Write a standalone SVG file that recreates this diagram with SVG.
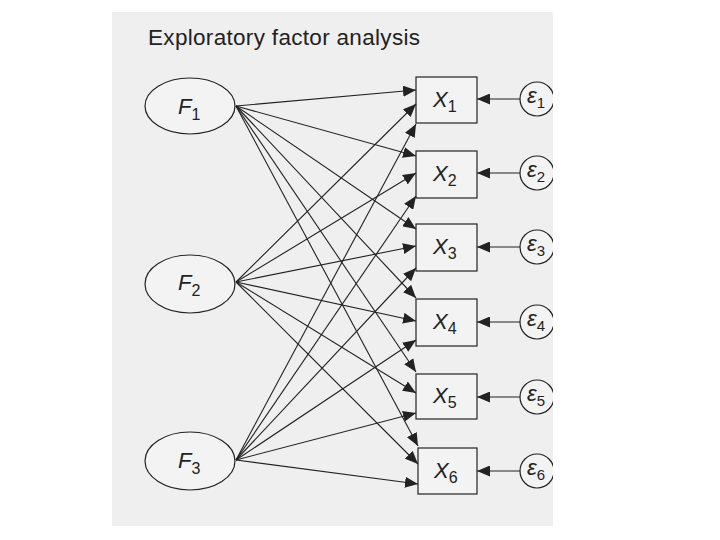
<svg xmlns="http://www.w3.org/2000/svg" width="720" height="540" viewBox="0 0 720 540">
<defs>
<marker id="ah" markerWidth="13" markerHeight="11" refX="13" refY="5.5" orient="auto" markerUnits="userSpaceOnUse">
<path d="M0,0 L13,5.5 L0,11 z" fill="#222"/>
</marker>
<clipPath id="panel"><rect x="112" y="12" width="441" height="514"/></clipPath>
<style>
.lbl{font-family:"Liberation Sans",Arial,sans-serif;fill:#222}
.it{font-style:italic}
.node{fill:#f3f3f3;stroke:#222;stroke-width:1.2}
.edge{stroke:#222;stroke-width:1.1;fill:none;marker-end:url(#ah)}
</style>
</defs>
<rect width="720" height="540" fill="#fff"/>
<rect x="112" y="12" width="441" height="514" fill="#efefef"/>
<text class="lbl" x="148" y="45" font-size="22.5" textLength="272">Exploratory factor analysis</text>
<g clip-path="url(#panel)">
<g id="F1"><ellipse class="node" cx="190" cy="106" rx="45" ry="28"/><text class="lbl" x="178" y="114" font-size="22"><tspan class="it">F</tspan><tspan font-size="16" dy="6">1</tspan></text></g>
<g id="F2"><ellipse class="node" cx="190" cy="284" rx="45" ry="29"/><text class="lbl" x="178" y="290" font-size="22"><tspan class="it">F</tspan><tspan font-size="16" dy="6">2</tspan></text></g>
<g id="F3"><ellipse class="node" cx="190" cy="461" rx="45" ry="29"/><text class="lbl" x="178" y="468" font-size="22"><tspan class="it">F</tspan><tspan font-size="16" dy="6">3</tspan></text></g>
<g id="X1"><rect class="node" x="416" y="77" width="61" height="46"/><text class="lbl" x="433" y="107" font-size="22"><tspan class="it">X</tspan><tspan font-size="16" dy="5">1</tspan></text></g>
<g id="X2"><rect class="node" x="416" y="151" width="61" height="47"/><text class="lbl" x="433" y="181" font-size="22"><tspan class="it">X</tspan><tspan font-size="16" dy="5">2</tspan></text></g>
<g id="X3"><rect class="node" x="416" y="224" width="61" height="47"/><text class="lbl" x="433" y="254" font-size="22"><tspan class="it">X</tspan><tspan font-size="16" dy="5">3</tspan></text></g>
<g id="X4"><rect class="node" x="416" y="299" width="61" height="47"/><text class="lbl" x="433" y="329" font-size="22"><tspan class="it">X</tspan><tspan font-size="16" dy="5">4</tspan></text></g>
<g id="X5"><rect class="node" x="416" y="374" width="61" height="45"/><text class="lbl" x="433" y="403" font-size="22"><tspan class="it">X</tspan><tspan font-size="16" dy="5">5</tspan></text></g>
<g id="X6"><rect class="node" x="418" y="448" width="59" height="46"/><text class="lbl" x="434" y="478" font-size="22"><tspan class="it">X</tspan><tspan font-size="16" dy="5">6</tspan></text></g>
<g id="e1"><circle class="node" cx="537" cy="99" r="17"/><text class="lbl it" x="527" y="103" font-size="22">ε<tspan font-size="15" dy="5" font-style="normal">1</tspan></text></g>
<g id="e2"><circle class="node" cx="537" cy="173" r="17"/><text class="lbl it" x="527" y="177" font-size="22">ε<tspan font-size="15" dy="5" font-style="normal">2</tspan></text></g>
<g id="e3"><circle class="node" cx="537" cy="247" r="17"/><text class="lbl it" x="527" y="251" font-size="22">ε<tspan font-size="15" dy="5" font-style="normal">3</tspan></text></g>
<g id="e4"><circle class="node" cx="537" cy="322" r="17"/><text class="lbl it" x="527" y="326" font-size="22">ε<tspan font-size="15" dy="5" font-style="normal">4</tspan></text></g>
<g id="e5"><circle class="node" cx="537" cy="397" r="17"/><text class="lbl it" x="527" y="401" font-size="22">ε<tspan font-size="15" dy="5" font-style="normal">5</tspan></text></g>
<g id="e6"><circle class="node" cx="537" cy="471" r="17"/><text class="lbl it" x="527" y="475" font-size="22">ε<tspan font-size="15" dy="5" font-style="normal">6</tspan></text></g>
</g>
<g id="connectors">
<line class="edge" x1="236" y1="106" x2="416" y2="90"/>
<line class="edge" x1="236" y1="106" x2="416" y2="156"/>
<line class="edge" x1="236" y1="106" x2="416" y2="229"/>
<line class="edge" x1="236" y1="106" x2="416" y2="298"/>
<line class="edge" x1="236" y1="106" x2="416" y2="372"/>
<line class="edge" x1="236" y1="106" x2="418" y2="446"/>
<line class="edge" x1="236" y1="282" x2="416" y2="104"/>
<line class="edge" x1="236" y1="282" x2="416" y2="173"/>
<line class="edge" x1="236" y1="282" x2="416" y2="246"/>
<line class="edge" x1="236" y1="282" x2="416" y2="321"/>
<line class="edge" x1="236" y1="282" x2="416" y2="393"/>
<line class="edge" x1="236" y1="282" x2="418" y2="464"/>
<line class="edge" x1="236" y1="460" x2="416" y2="124"/>
<line class="edge" x1="236" y1="460" x2="416" y2="196"/>
<line class="edge" x1="236" y1="460" x2="416" y2="268"/>
<line class="edge" x1="236" y1="460" x2="416" y2="340"/>
<line class="edge" x1="236" y1="460" x2="416" y2="413"/>
<line class="edge" x1="236" y1="460" x2="418" y2="484"/>
<line class="edge" x1="520" y1="99" x2="477" y2="99"/>
<line class="edge" x1="520" y1="173" x2="477" y2="173"/>
<line class="edge" x1="520" y1="247" x2="477" y2="247"/>
<line class="edge" x1="520" y1="322" x2="477" y2="322"/>
<line class="edge" x1="520" y1="397" x2="477" y2="397"/>
<line class="edge" x1="520" y1="471" x2="477" y2="471"/>
</g>
</svg>
